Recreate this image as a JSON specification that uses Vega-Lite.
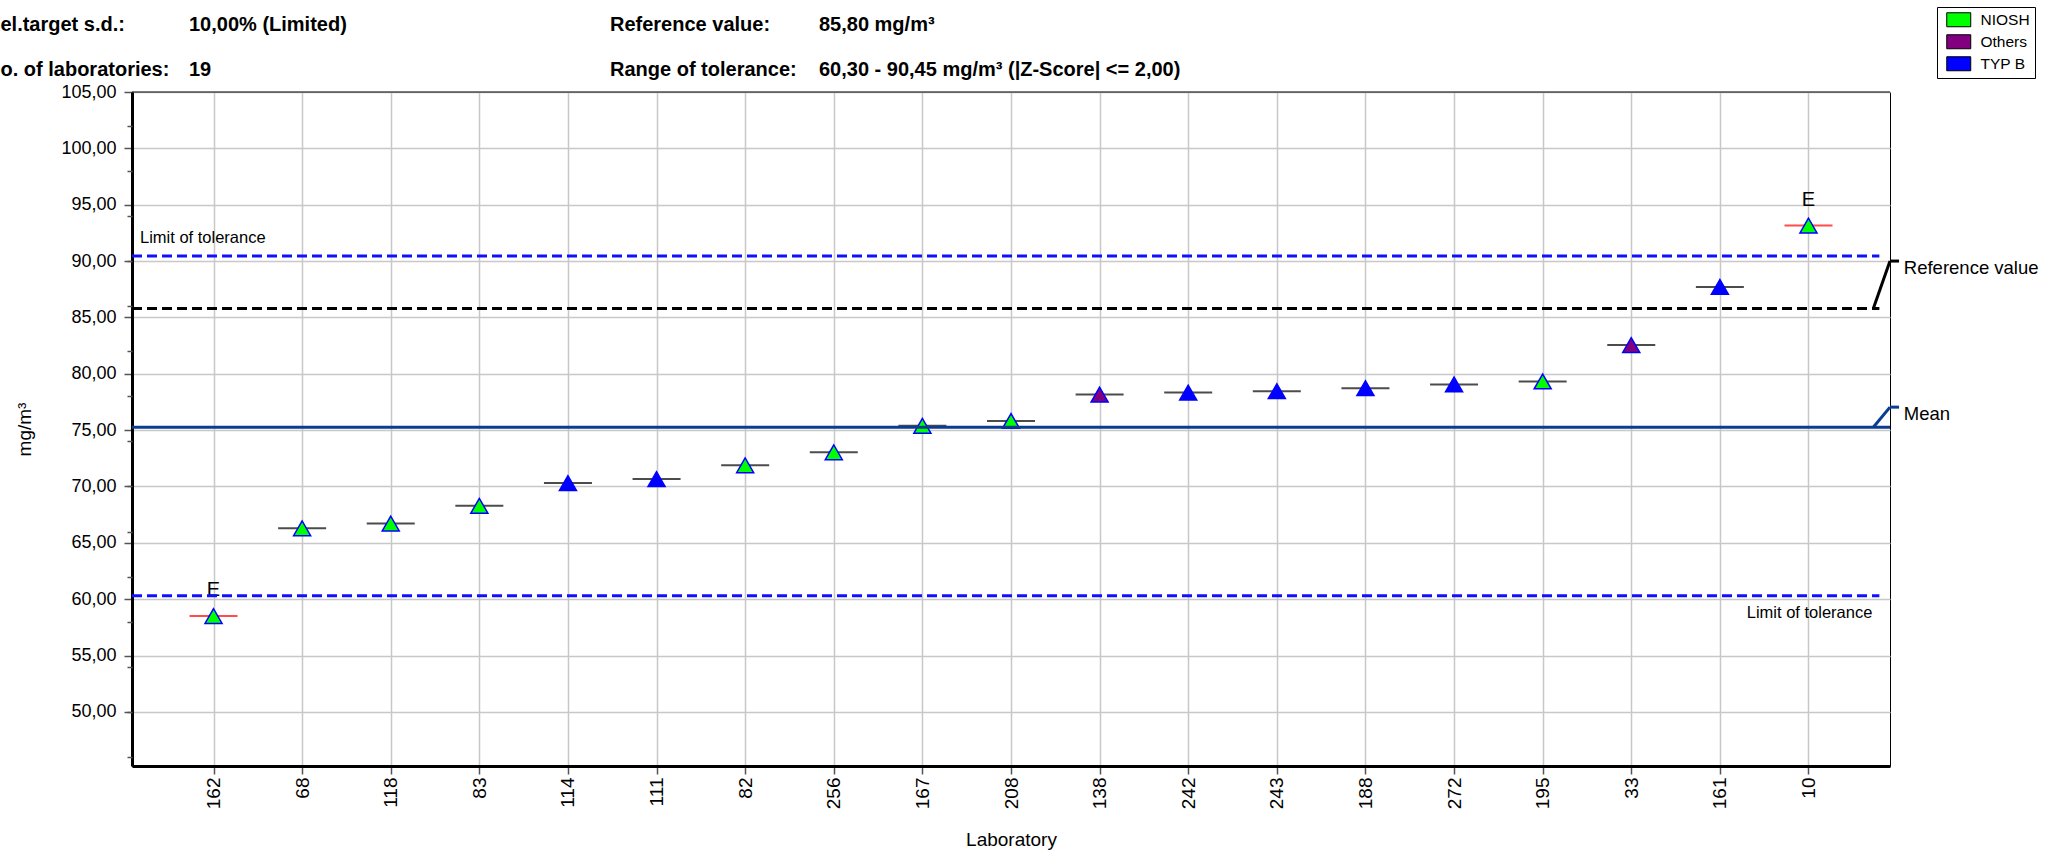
{
  "$schema": "https://vega.github.io/schema/vega-lite/v6.json",
  "autosize": {"type": "none"},
  "padding": {"left": 132, "top": 92, "right": 159, "bottom": 85},
  "width": 1758,
  "height": 674,
  "background": "white",
  "config": {
    "font": "Liberation Sans",
    "view": {"stroke": "black", "strokeWidth": 1},
    "text": {"font": "Liberation Sans", "color": "black"}
  },
  "datasets": {
    "labs": [
      {"lab": "162", "value": 58.5, "method": "NIOSH", "flag": "E"},
      {"lab": "68", "value": 66.29, "method": "NIOSH", "flag": ""},
      {"lab": "118", "value": 66.71, "method": "NIOSH", "flag": ""},
      {"lab": "83", "value": 68.29, "method": "NIOSH", "flag": ""},
      {"lab": "114", "value": 70.3, "method": "TYP B", "flag": ""},
      {"lab": "111", "value": 70.66, "method": "TYP B", "flag": ""},
      {"lab": "82", "value": 71.88, "method": "NIOSH", "flag": ""},
      {"lab": "256", "value": 73.03, "method": "NIOSH", "flag": ""},
      {"lab": "167", "value": 75.38, "method": "NIOSH", "flag": ""},
      {"lab": "208", "value": 75.82, "method": "NIOSH", "flag": ""},
      {"lab": "138", "value": 78.15, "method": "Others", "flag": ""},
      {"lab": "242", "value": 78.33, "method": "TYP B", "flag": ""},
      {"lab": "243", "value": 78.45, "method": "TYP B", "flag": ""},
      {"lab": "188", "value": 78.72, "method": "TYP B", "flag": ""},
      {"lab": "272", "value": 79.05, "method": "TYP B", "flag": ""},
      {"lab": "195", "value": 79.32, "method": "NIOSH", "flag": ""},
      {"lab": "33", "value": 82.55, "method": "Others", "flag": ""},
      {"lab": "161", "value": 87.7, "method": "TYP B", "flag": ""},
      {"lab": "10", "value": 93.15, "method": "NIOSH", "flag": "E"}
    ],
    "lines": [
      {"kind": "upper", "label": "Limit of tolerance", "value": 90.45},
      {"kind": "lower", "label": "Limit of tolerance", "value": 60.3},
      {"kind": "ref", "label": "Reference value", "value": 85.8},
      {"kind": "mean", "label": "Mean", "value": 75.25},
      {"kind": "top", "label": "", "value": 105}
    ],
    "header": [
      {"id": "l1", "text": "Rel.target s.d.:"},
      {"id": "v1", "text": "10,00% (Limited)"},
      {"id": "l2", "text": "No. of laboratories:"},
      {"id": "v2", "text": "19"},
      {"id": "l3", "text": "Reference value:"},
      {"id": "v3", "text": "85,80 mg/m³"},
      {"id": "l4", "text": "Range of tolerance:"},
      {"id": "v4", "text": "60,30 - 90,45 mg/m³ (|Z-Score| <= 2,00)"}
    ]
  },
  "resolve": {"scale": {"x": "independent"}, "axis": {"y": "independent"}},
  "layer": [
    {
      "data": {"name": "labs"},
      "layer": [
        {
          "mark": {"type": "tick", "orient": "horizontal", "size": 48, "thickness": 2},
          "encoding": {
            "x": {
              "field": "lab", "type": "ordinal", "sort": null, "title": "Laboratory",
              "scale": {"type": "point", "padding": 0.92},
              "axis": {
                "grid": true, "gridColor": "#c8c8c8", "gridWidth": 1.5,
                "labelAngle": -90, "labelAlign": "right", "labelBaseline": "middle",
                "labelFontSize": 19, "labelColor": "black", "labelPadding": 3,
                "tickSize": 8, "tickColor": "#555555", "tickWidth": 1.5,
                "domainColor": "black", "domainWidth": 3,
                "titleFontSize": 19, "titleFontWeight": "normal", "titleColor": "black", "titlePadding": 22
              }
            },
            "y": {
              "field": "value", "type": "quantitative", "title": "mg/m³",
              "scale": {"domain": [45.2, 105], "nice": false, "zero": false},
              "axis": {
                "orient": "left",
                "values": [50, 55, 60, 65, 70, 75, 80, 85, 90, 95, 100, 105],
                "labelExpr": "replace(format(datum.value, '.2f'), '.', ',')",
                "labelOverlap": false, "labelFlush": false,
                "tickSize": 8, "tickColor": "#555555", "tickWidth": 1.5,
                "grid": true, "gridColor": "#c8c8c8", "gridWidth": 1.5,
                "domainColor": "black", "domainWidth": 3,
                "labelFontSize": 18, "labelColor": "black", "labelPadding": 8,
                "titleFontSize": 19, "titleFontWeight": "normal", "titleColor": "black", "titlePadding": 26
              }
            },
            "color": {"condition": {"test": "datum.flag === 'E'", "value": "#ff0000"}, "value": "#000000"}
          }
        },
        {
          "mark": {"type": "point", "shape": "triangle-up", "filled": true, "size": 290, "stroke": "#0000ff", "strokeWidth": 1.5, "opacity": 1},
          "encoding": {
            "x": {"field": "lab", "type": "ordinal", "sort": null, "title": "Laboratory"},
            "y": {"field": "value", "type": "quantitative", "title": "mg/m³"},
            "fill": {
              "field": "method", "type": "nominal",
              "scale": {"domain": ["NIOSH", "Others", "TYP B"], "range": ["#00ff00", "#800080", "#0000ff"]},
              "legend": {
                "orient": "none", "legendX": 1805, "legendY": -85, "title": null,
                "symbolType": "M-1.714,-1H1.714V1H-1.714Z", "symbolSize": 196,
                "symbolStrokeColor": "black", "symbolStrokeWidth": 1, "symbolOpacity": 1,
                "symbolOffset": 9, "labelOffset": 14,
                "labelFontSize": 15.5, "labelFont": "Liberation Sans", "labelColor": "black",
                "padding": 5, "rowPadding": 3, "strokeColor": "black", "fillColor": "white"
              }
            }
          }
        },
        {
          "transform": [{"filter": "datum.flag === 'E'"}],
          "mark": {"type": "text", "dy": -26, "fontSize": 20, "baseline": "middle", "align": "center"},
          "encoding": {
            "x": {"field": "lab", "type": "ordinal", "sort": null, "title": "Laboratory"},
            "y": {"field": "value", "type": "quantitative", "title": "mg/m³"},
            "text": {"field": "flag"}
          }
        }
      ]
    },
    {
      "layer": [
        {
          "data": {"name": "lines"},
          "transform": [{"filter": "datum.kind === 'upper' || datum.kind === 'lower'"}],
          "mark": {"type": "rule", "color": "#1010ff", "strokeWidth": 3, "strokeDash": [10, 5]},
          "encoding": {
            "x": {"datum": 0.079, "type": "quantitative", "scale": {"domain": [0.079, 19.914], "nice": false, "zero": false}, "axis": null},
            "x2": {"datum": 19.794},
            "y": {
              "field": "value", "type": "quantitative", "title": null,
              "axis": {
                "orient": "left", "title": null,
                "values": [46, 47, 48, 49, 50, 51, 52, 53, 54, 55, 56, 57, 58, 59, 60, 61, 62, 63, 64, 65, 66, 67, 68, 69, 70, 71, 72, 73, 74, 75, 76, 77, 78, 79, 80, 81, 82, 83, 84, 85, 86, 87, 88, 89, 90, 91, 92, 93, 94, 95, 96, 97, 98, 99, 100, 101, 102, 103, 104, 105],
                "labels": false, "grid": false, "domain": false,
                "ticks": true, "tickSize": 5, "tickColor": "#555555", "tickWidth": 1.5
              }
            }
          }
        },
        {
          "data": {"name": "lines"},
          "transform": [{"filter": "datum.kind === 'top'"}],
          "mark": {"type": "rule", "color": "#000000", "strokeWidth": 1},
          "encoding": {
            "y": {"field": "value", "type": "quantitative", "title": null}
          }
        },
        {
          "data": {"name": "lines"},
          "transform": [{"filter": "datum.kind === 'ref'"}],
          "mark": {"type": "rule", "color": "#000000", "strokeWidth": 3, "strokeDash": [10, 5]},
          "encoding": {
            "x": {"datum": 0.079, "type": "quantitative", "scale": {"domain": [0.079, 19.914], "nice": false, "zero": false}, "axis": null},
            "x2": {"datum": 19.794},
            "y": {"field": "value", "type": "quantitative", "title": null}
          }
        },
        {
          "data": {"name": "lines"},
          "transform": [{"filter": "datum.kind === 'mean'"}],
          "mark": {"type": "rule", "color": "#0b3d8f", "strokeWidth": 3},
          "encoding": {
            "x": {"datum": 0.079, "type": "quantitative", "scale": {"domain": [0.079, 19.914], "nice": false, "zero": false}, "axis": null},
            "x2": {"datum": 19.914},
            "y": {"field": "value", "type": "quantitative", "title": null}
          }
        },
        {
          "data": {"name": "lines"},
          "transform": [{"filter": "datum.kind === 'ref'"}],
          "mark": {"type": "rule", "color": "#000000", "strokeWidth": 3},
          "encoding": {
            "x": {"datum": 19.726, "type": "quantitative", "axis": null},
            "x2": {"datum": 19.914},
            "y": {"field": "value", "type": "quantitative", "title": null},
            "y2": {"datum": 90.0}
          }
        },
        {
          "data": {"name": "lines"},
          "transform": [{"filter": "datum.kind === 'ref'"}],
          "mark": {"type": "rule", "color": "#000000", "strokeWidth": 3},
          "encoding": {
            "x": {"datum": 19.914, "type": "quantitative", "axis": null},
            "x2": {"datum": 20.016},
            "y": {"datum": 90.0, "type": "quantitative", "title": null}
          }
        },
        {
          "data": {"name": "lines"},
          "transform": [{"filter": "datum.kind === 'mean'"}],
          "mark": {"type": "rule", "color": "#0b3d8f", "strokeWidth": 3},
          "encoding": {
            "x": {"datum": 19.726, "type": "quantitative", "axis": null},
            "x2": {"datum": 19.914},
            "y": {"field": "value", "type": "quantitative", "title": null},
            "y2": {"datum": 77.04}
          }
        },
        {
          "data": {"name": "lines"},
          "transform": [{"filter": "datum.kind === 'mean'"}],
          "mark": {"type": "rule", "color": "#0b3d8f", "strokeWidth": 3},
          "encoding": {
            "x": {"datum": 19.914, "type": "quantitative", "axis": null},
            "x2": {"datum": 20.016},
            "y": {"datum": 77.04, "type": "quantitative", "title": null}
          }
        },
        {
          "data": {"name": "lines"},
          "transform": [{"filter": "datum.kind === 'ref'"}],
          "mark": {"type": "text", "align": "left", "baseline": "middle", "dy": 7, "fontSize": 18.5},
          "encoding": {
            "x": {"datum": 20.07, "type": "quantitative", "axis": null},
            "y": {"datum": 90.0, "type": "quantitative", "title": null},
            "text": {"field": "label"}
          }
        },
        {
          "data": {"name": "lines"},
          "transform": [{"filter": "datum.kind === 'mean'"}],
          "mark": {"type": "text", "align": "left", "baseline": "middle", "dy": 7, "fontSize": 18.5},
          "encoding": {
            "x": {"datum": 20.07, "type": "quantitative", "axis": null},
            "y": {"datum": 77.04, "type": "quantitative", "title": null},
            "text": {"field": "label"}
          }
        },
        {
          "data": {"name": "lines"},
          "transform": [{"filter": "datum.kind === 'upper'"}],
          "mark": {"type": "text", "align": "left", "baseline": "middle", "dy": -18, "fontSize": 16.5},
          "encoding": {
            "x": {"datum": 0.169, "type": "quantitative", "axis": null},
            "y": {"field": "value", "type": "quantitative", "title": null},
            "text": {"field": "label"}
          }
        },
        {
          "data": {"name": "lines"},
          "transform": [{"filter": "datum.kind === 'lower'"}],
          "mark": {"type": "text", "align": "right", "baseline": "middle", "dy": 17, "fontSize": 16.5},
          "encoding": {
            "x": {"datum": 19.715, "type": "quantitative", "axis": null},
            "y": {"field": "value", "type": "quantitative", "title": null},
            "text": {"field": "label"}
          }
        },
        {
          "data": {"name": "header"},
          "transform": [{"filter": "datum.id === 'l1'"}],
          "mark": {"type": "text", "align": "left", "baseline": "alphabetic", "fontSize": 20, "fontWeight": "bold"},
          "encoding": {
            "x": {"datum": -1.568, "type": "quantitative", "axis": null},
            "y": {"datum": 110.37, "type": "quantitative", "title": null},
            "text": {"field": "text"}
          }
        },
        {
          "data": {"name": "header"},
          "transform": [{"filter": "datum.id === 'v1'"}],
          "mark": {"type": "text", "align": "left", "baseline": "alphabetic", "fontSize": 20, "fontWeight": "bold"},
          "encoding": {
            "x": {"datum": 0.722, "type": "quantitative", "axis": null},
            "y": {"datum": 110.37, "type": "quantitative", "title": null},
            "text": {"field": "text"}
          }
        },
        {
          "data": {"name": "header"},
          "transform": [{"filter": "datum.id === 'l2'"}],
          "mark": {"type": "text", "align": "left", "baseline": "alphabetic", "fontSize": 20, "fontWeight": "bold"},
          "encoding": {
            "x": {"datum": -1.568, "type": "quantitative", "axis": null},
            "y": {"datum": 106.42, "type": "quantitative", "title": null},
            "text": {"field": "text"}
          }
        },
        {
          "data": {"name": "header"},
          "transform": [{"filter": "datum.id === 'v2'"}],
          "mark": {"type": "text", "align": "left", "baseline": "alphabetic", "fontSize": 20, "fontWeight": "bold"},
          "encoding": {
            "x": {"datum": 0.722, "type": "quantitative", "axis": null},
            "y": {"datum": 106.42, "type": "quantitative", "title": null},
            "text": {"field": "text"}
          }
        },
        {
          "data": {"name": "header"},
          "transform": [{"filter": "datum.id === 'l3'"}],
          "mark": {"type": "text", "align": "left", "baseline": "alphabetic", "fontSize": 20, "fontWeight": "bold"},
          "encoding": {
            "x": {"datum": 5.472, "type": "quantitative", "axis": null},
            "y": {"datum": 110.37, "type": "quantitative", "title": null},
            "text": {"field": "text"}
          }
        },
        {
          "data": {"name": "header"},
          "transform": [{"filter": "datum.id === 'v3'"}],
          "mark": {"type": "text", "align": "left", "baseline": "alphabetic", "fontSize": 20, "fontWeight": "bold"},
          "encoding": {
            "x": {"datum": 7.83, "type": "quantitative", "axis": null},
            "y": {"datum": 110.37, "type": "quantitative", "title": null},
            "text": {"field": "text"}
          }
        },
        {
          "data": {"name": "header"},
          "transform": [{"filter": "datum.id === 'l4'"}],
          "mark": {"type": "text", "align": "left", "baseline": "alphabetic", "fontSize": 20, "fontWeight": "bold"},
          "encoding": {
            "x": {"datum": 5.472, "type": "quantitative", "axis": null},
            "y": {"datum": 106.42, "type": "quantitative", "title": null},
            "text": {"field": "text"}
          }
        },
        {
          "data": {"name": "header"},
          "transform": [{"filter": "datum.id === 'v4'"}],
          "mark": {"type": "text", "align": "left", "baseline": "alphabetic", "fontSize": 20, "fontWeight": "bold"},
          "encoding": {
            "x": {"datum": 7.83, "type": "quantitative", "axis": null},
            "y": {"datum": 106.42, "type": "quantitative", "title": null},
            "text": {"field": "text"}
          }
        }
      ]
    }
  ]
}
